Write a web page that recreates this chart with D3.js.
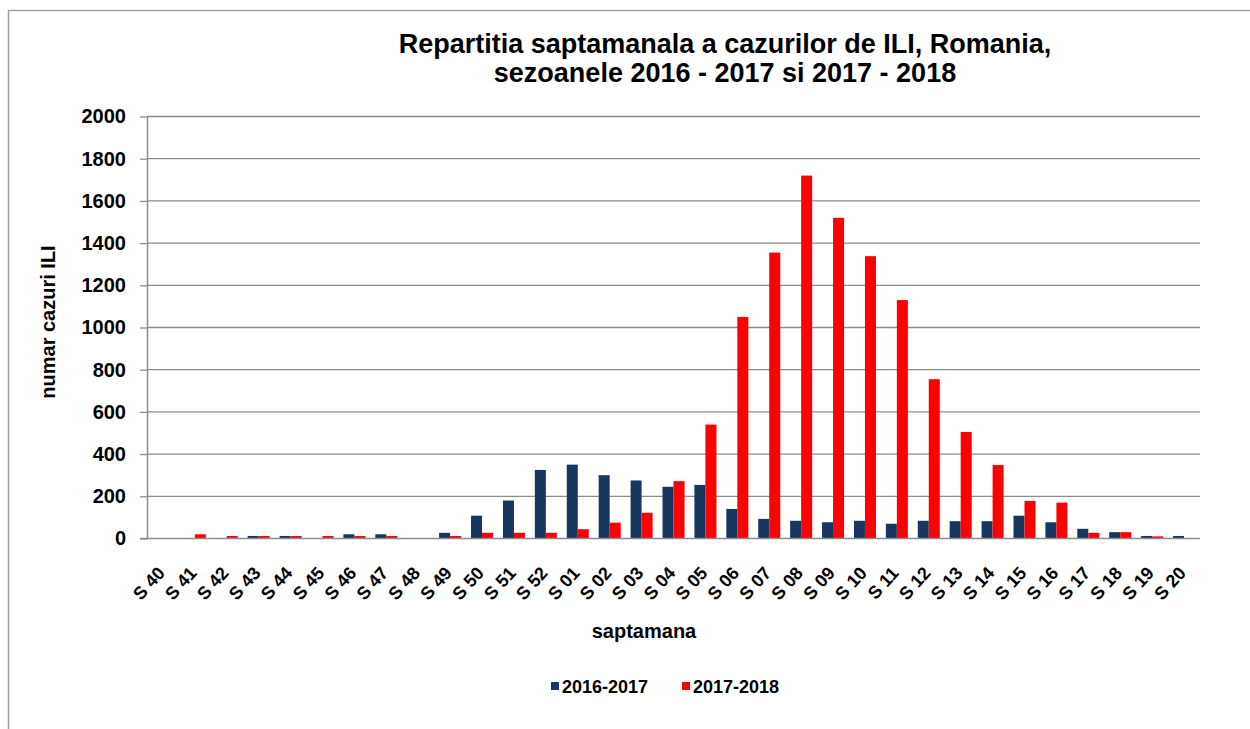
<!DOCTYPE html>
<html>
<head>
<meta charset="utf-8">
<script src="https://cdn.jsdelivr.net/npm/d3@7"></script>
<style>
    body { margin: 0; background: #fff; }
    text { font-family: Arial, "Liberation Sans", sans-serif; fill: #000; }
</style>
</head>
<body>
<div id="chart"></div>
<script>
var weeks = ["S 40", "S 41", "S 42", "S 43", "S 44", "S 45", "S 46", "S 47", "S 48", "S 49", "S 50",
    "S 51", "S 52", "S 01", "S 02", "S 03", "S 04", "S 05", "S 06", "S 07", "S 08", "S 09", "S 10",
    "S 11", "S 12", "S 13", "S 14", "S 15", "S 16", "S 17", "S 18", "S 19", "S 20"];

var season1617 = [0, 0, 0, 12, 12, 0, 20, 20, 0, 27, 108,
    180, 325, 350, 300, 275, 245, 254, 140, 93, 84, 77, 84,
    70, 84, 82, 82, 108, 77, 46, 30, 12, 12];

var season1718 = [0, 20, 12, 12, 12, 12, 12, 12, 0, 12, 27,
    27, 27, 44, 75, 122, 272, 540, 1050, 1355, 1720, 1520, 1338,
    1130, 755, 505, 348, 178, 170, 27, 30, 10, 0];

var seriesNames = ["2016-2017", "2017-2018"];
var seriesColors = ["#17375e", "#ff0000"];
var yTicks = [0, 200, 400, 600, 800, 1000, 1200, 1400, 1600, 1800, 2000];

var W = 1250, H = 729;
var plot = { left: 147, right: 1200, top: 116.5, bottom: 538.5 };

var svg = d3.select("#chart").append("svg")
    .attr("width", W)
    .attr("height", H);

// chart area border (runs off the picture right and bottom)
svg.append("rect")
    .attr("x", 8.5)
    .attr("y", 10.5)
    .attr("width", 1400)
    .attr("height", 900)
    .attr("fill", "none")
    .attr("stroke", "#a0a0a0")
    .attr("stroke-width", 1.5);

var x0 = d3.scaleBand()
    .domain(weeks)
    .range([plot.left, plot.right])
    .paddingInner(0.31)
    .paddingOuter(0.155);

var x1 = d3.scaleBand()
    .domain([0, 1])
    .range([0, x0.bandwidth()]);

var y = d3.scaleLinear()
    .domain([0, 2000])
    .range([plot.bottom, plot.top]);

// gridlines
svg.append("g")
    .selectAll("line")
    .data(yTicks.slice(1))
    .join("line")
    .attr("x1", plot.left)
    .attr("x2", plot.right)
    .attr("y1", function (d) { return y(d); })
    .attr("y2", function (d) { return y(d); })
    .attr("stroke", "#8c8c8c")
    .attr("stroke-width", 1.3);

// y axis
var yAxis = svg.append("g")
    .attr("transform", "translate(" + plot.left + ",0)")
    .call(d3.axisLeft(y).tickValues(yTicks).tickFormat(d3.format("d"))
        .tickSize(7).tickPadding(14).tickSizeOuter(0));
yAxis.select(".domain").attr("stroke", "#8c8c8c").attr("stroke-width", 1.5);
yAxis.selectAll(".tick line").attr("stroke", "#8c8c8c").attr("stroke-width", 1.3);
yAxis.selectAll(".tick text")
    .attr("font-family", "Arial, 'Liberation Sans', sans-serif")
    .attr("font-size", 20)
    .attr("font-weight", "bold")
    .attr("fill", "#000");

// bars
var rows = weeks.map(function (w, i) {
    return { week: w, values: [season1617[i], season1718[i]] };
});

var groups = svg.append("g")
    .selectAll("g")
    .data(rows)
    .join("g")
    .attr("transform", function (d) { return "translate(" + x0(d.week) + ",0)"; });

groups.selectAll("rect")
    .data(function (d) { return d.values.map(function (v, k) { return { k: k, v: v }; }); })
    .join("rect")
    .attr("x", function (d) { return x1(d.k); })
    .attr("width", x1.bandwidth())
    .attr("y", function (d) { return y(d.v); })
    .attr("height", function (d) { return y(0) - y(d.v); })
    .attr("fill", function (d) { return seriesColors[d.k]; });

// x axis
var xAxis = svg.append("g")
    .attr("transform", "translate(0," + plot.bottom + ")")
    .call(d3.axisBottom(x0).tickSize(0).tickSizeOuter(0));
xAxis.select(".domain")
    .attr("d", "M" + (plot.left - 7) + ",0H" + plot.right)
    .attr("stroke", "#8c8c8c")
    .attr("stroke-width", 1.5);
xAxis.selectAll(".tick text")
    .attr("font-family", "Arial, 'Liberation Sans', sans-serif")
    .attr("font-size", 18)
    .attr("font-weight", "bold")
    .attr("fill", "#000")
    .attr("text-anchor", "end")
    .attr("dy", "0.35em")
    .attr("transform", "translate(-4,29) rotate(-48)");

// titles
var title = svg.append("text")
    .attr("x", 725)
    .attr("y", 53)
    .attr("text-anchor", "middle")
    .attr("font-size", 27)
    .attr("font-weight", "bold");
title.append("tspan").attr("x", 725).text("Repartitia saptamanala a cazurilor de ILI, Romania,");
title.append("tspan").attr("x", 725).attr("dy", 29).text("sezoanele 2016 - 2017 si 2017 - 2018");

svg.append("text")
    .attr("transform", "translate(55,322) rotate(-90)")
    .attr("text-anchor", "middle")
    .attr("font-size", 20)
    .attr("font-weight", "bold")
    .text("numar cazuri ILI");

svg.append("text")
    .attr("x", 644)
    .attr("y", 638)
    .attr("text-anchor", "middle")
    .attr("font-size", 20)
    .attr("font-weight", "bold")
    .text("saptamana");

// legend
var legendX = [551, 682];
var legend = svg.append("g")
    .selectAll("g")
    .data(seriesNames)
    .join("g")
    .attr("transform", function (d, i) { return "translate(" + legendX[i] + ",693)"; });
legend.append("rect")
    .attr("x", 0)
    .attr("y", -11)
    .attr("width", 8)
    .attr("height", 8)
    .attr("fill", function (d, i) { return seriesColors[i]; });
legend.append("text")
    .attr("x", 11)
    .attr("y", 0)
    .attr("font-size", 18)
    .attr("font-weight", "bold")
    .text(function (d) { return d; });
</script>
</body>
</html>
